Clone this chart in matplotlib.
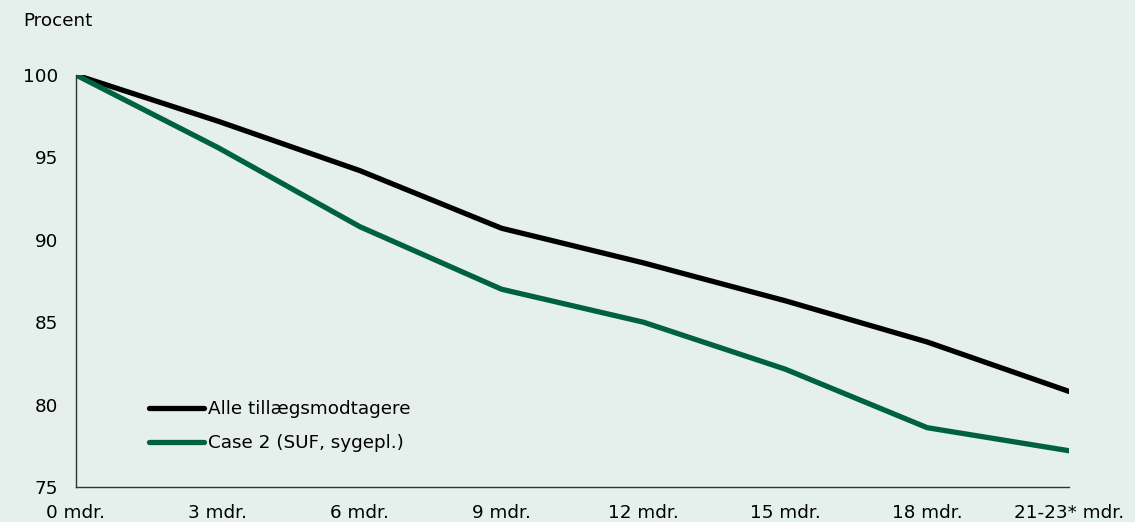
import matplotlib.pyplot as plt

# Data
categories = ['0 mdr.', '3 mdr.', '6 mdr.', '9 mdr.', '12 mdr.', '15 mdr.', '18 mdr.', '21-23* mdr.']
alle = [100, 97.2, 94.2, 90.7, 88.6, 86.3, 83.8, 80.8]
case2 = [100, 95.6, 90.8, 87.0, 85.0, 82.15, 78.6, 77.2]
y_ticks = [75, 80, 85, 90, 95, 100]

bg = '#e5efec'
green = '#00613f'

plt.rcParams['font.family'] = ['DejaVu Sans']
plt.rcParams['font.size'] = 13.2

fig = plt.figure(figsize=(11.35, 5.22), dpi=100, facecolor=bg)
ax = fig.add_axes([76/1135, 1 - 487/522, (1069 - 76)/1135, (487 - 75)/522])
ax.set_facecolor(bg)

x = list(range(len(categories)))
ax.plot(x, alle, color='black', lw=3.8, solid_capstyle='round', solid_joinstyle='round',
        label='Alle tillægsmodtagere')
ax.plot(x, case2, color=green, lw=3.8, solid_capstyle='round', solid_joinstyle='round',
        label='Case 2 (SUF, sygepl.)')

ax.set_xlim(0, len(categories) - 1)
ax.set_ylim(75, 100)
ax.set_yticks(y_ticks)
ax.set_xticks(x)
ax.set_xticklabels(categories)
ax.tick_params(axis='both', length=0, colors='black')
ax.tick_params(axis='y', pad=13)
ax.tick_params(axis='x', pad=12)

for s in ['top', 'right']:
    ax.spines[s].set_visible(False)
for s in ['left', 'bottom']:
    ax.spines[s].set_color('#333333')
    ax.spines[s].set_linewidth(1.0)

for lbl in ax.get_xticklabels() + ax.get_yticklabels():
    lbl.set_clip_on(False)

leg = ax.legend(loc='lower left', bbox_to_anchor=(0.074, 0.085), frameon=False,
                handlelength=3.0, handletextpad=0.2, labelspacing=0.85,
                borderaxespad=0, borderpad=0)

fig.text(23/1135, 1 - 21/522, 'Procent', ha='left', va='center')

fig.savefig('out.png', dpi=100, facecolor=bg)
